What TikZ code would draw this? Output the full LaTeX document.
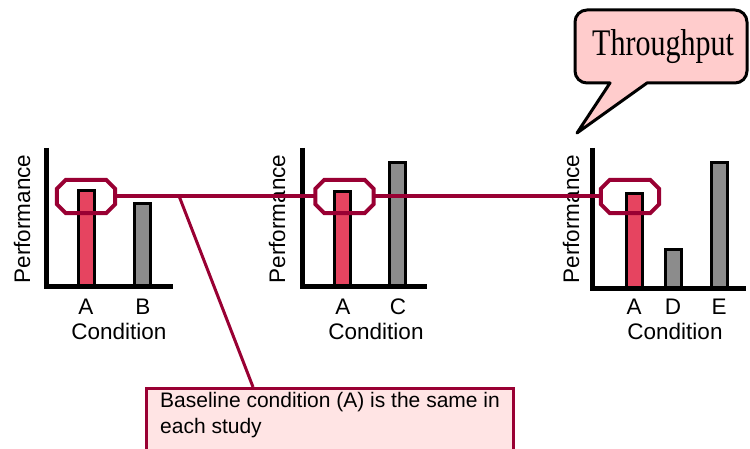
\documentclass[tikz,border=0pt]{standalone}
\usepackage{fontspec}
\setmainfont{Liberation Sans}
\newfontfamily\bubblefont{Liberation Serif}
\usetikzlibrary{calc}
\definecolor{wine}{RGB}{153,0,51}
\definecolor{barred}{RGB}{230,68,96}
\definecolor{bargray}{RGB}{140,140,140}
\definecolor{notepink}{RGB}{255,228,228}
\definecolor{bubblepink}{RGB}{255,204,204}
\tikzset{
  axes/.style={line width=5pt, line join=miter},
  basebar/.style={draw=black, line width=3pt, fill=barred},
  otherbar/.style={draw=black, line width=3pt, fill=bargray},
  ring/.style={rectangle, inner sep=0pt, minimum width=58pt, minimum height=33pt},
  ringline/.style={draw=wine, line width=4pt, line join=miter},
  lbl/.style={font=\fontsize{22.5}{27}\selectfont},
  link/.style={draw=wine, line width=4pt},
}
% octagon round a ring node, corners cut 9pt
\newcommand{\ringshape}[1]{%
  \draw[ringline] ($(#1.north west)+(9,0)$) -- ($(#1.north east)+(-9,0)$)
    -- ($(#1.north east)+(0,9)$) -- ($(#1.south east)+(0,-9)$)
    -- ($(#1.south east)+(-9,0)$) -- ($(#1.south west)+(9,0)$)
    -- ($(#1.south west)+(0,-9)$) -- ($(#1.north west)+(0,9)$) -- cycle;}

\begin{document}
\begin{tikzpicture}[x=1pt,y=-1pt]
  \clip (0,0) rectangle (750,449);

  % first study: A vs B
  \draw[basebar] (78.5,190.5) rectangle (94.5,287);
  \draw[otherbar] (134.5,203.5) rectangle (150.5,287);
  \draw[axes] (46,148) -- (46,287) -- (173,287);
  \node[lbl, rotate=90] (perf1) at (22,219) {Performance};
  \node[lbl, anchor=base] (a1) at (86,315) {A};
  \node[lbl, anchor=base] (b1) at (143,315) {B};
  \node[lbl, anchor=base] (cond1) at (119,339) {Condition};

  % second study: A vs C
  \draw[basebar] (334.5,191.5) rectangle (350.5,287);
  \draw[otherbar] (389.5,162.5) rectangle (405.5,287);
  \draw[axes] (302,148) -- (302,287) -- (427,287);
  \node[lbl, rotate=90] (perf2) at (277,219) {Performance};
  \node[lbl, anchor=base] (a2) at (343,315) {A};
  \node[lbl, anchor=base] (c2) at (398,315) {C};
  \node[lbl, anchor=base] (cond2) at (376,339) {Condition};

  % third study: A vs D vs E
  \draw[basebar] (626.5,193.5) rectangle (642.5,289);
  \draw[otherbar] (665.5,249.5) rectangle (681.5,289);
  \draw[otherbar] (711.5,162.5) rectangle (727.5,289);
  \draw[axes] (592,148) -- (592,289) -- (746,289);
  \node[lbl, rotate=90] (perf3) at (571,219) {Performance};
  \node[lbl, anchor=base] (a3) at (634,315) {A};
  \node[lbl, anchor=base] (d3) at (673,315) {D};
  \node[lbl, anchor=base] (e3) at (719,315) {E};
  \node[lbl, anchor=base] (cond3) at (675,339) {Condition};

  % baseline rings and the line through them
  \node[ring] (o1) at (86,196.5) {};
  \node[ring] (o2) at (344.5,196.5) {};
  \node[ring] (o3) at (630,196.5) {};
  \ringshape{o1}
  \ringshape{o2}
  \ringshape{o3}
  \draw[link] (o1.east) -- (o2.west);
  \draw[link] (o2.east) -- (o3.west);
  \coordinate (jn) at ($(o1.east)!0.32!(o2.west)$);

  % note box
  \node[draw=wine, line width=3pt, fill=notepink, anchor=north west,
    minimum width=367pt, align=left, inner ysep=4pt,
    text depth=60pt, font=\fontsize{21}{26}\selectfont] (note) at (145,387)
    {Baseline condition (A) is the same in\\each study};
  \draw[link, line width=3pt] (jn) -- ($(note.north west)+(108,0)$);

  % speech bubble
  \draw[line width=3pt, fill=bubblepink, line join=round]
    (577,133) -- (610,83) [rounded corners=12pt] -- (575,83) -- (575,10)
    -- (747,10) -- (747,83) [sharp corners] -- (647,83) -- cycle;
  \node[font=\bubblefont\fontsize{30}{30}\selectfont, yscale=1.25] (tp) at (663,47) {Throughput};
\end{tikzpicture}
\end{document}
